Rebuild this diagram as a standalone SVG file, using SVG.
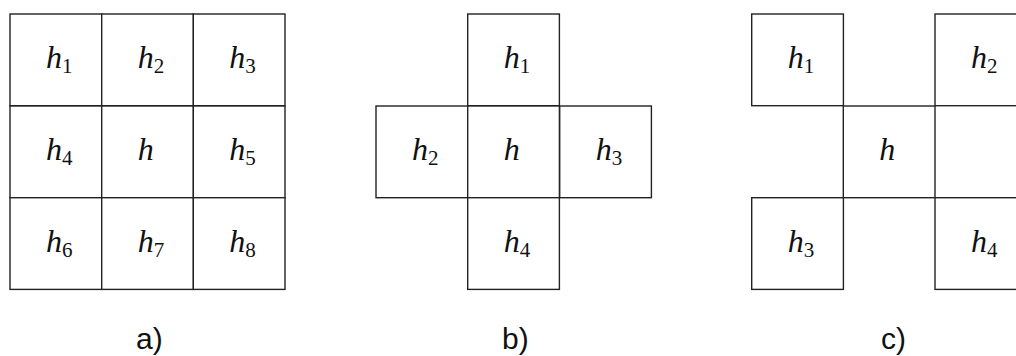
<svg xmlns="http://www.w3.org/2000/svg" width="1016" height="356" viewBox="0 0 1016 356">
<style>
rect.c{fill:#fff;stroke:#222;stroke-width:1.4}
text.m{font-family:"Liberation Serif","DejaVu Serif",serif;font-style:italic;font-size:32px;fill:#111}
tspan.s{font-style:normal;font-size:21px}
text.cap{font-family:"Liberation Sans",Arial,sans-serif;font-size:30px;fill:#111}
</style>
<rect width="1016" height="356" fill="#fff"/>
<defs>
<g id="cell"><rect class="c" x="0" y="0" width="91.7" height="91.7"/></g>
</defs>
<g id="grid-a">
<g id="a-h1"><use href="#cell" x="10" y="14"/><text class="m" x="46" y="68">h<tspan class="s" dy="5">1</tspan></text></g>
<g id="a-h2"><use href="#cell" x="101.7" y="14"/><text class="m" x="137.7" y="68">h<tspan class="s" dy="5">2</tspan></text></g>
<g id="a-h3"><use href="#cell" x="193.3" y="14"/><text class="m" x="229.3" y="68">h<tspan class="s" dy="5">3</tspan></text></g>
<g id="a-h4"><use href="#cell" x="10" y="106"/><text class="m" x="46" y="160">h<tspan class="s" dy="5">4</tspan></text></g>
<g id="a-h"><use href="#cell" x="101.7" y="106"/><text class="m" x="137.7" y="160">h</text></g>
<g id="a-h5"><use href="#cell" x="193.3" y="106"/><text class="m" x="229.3" y="160">h<tspan class="s" dy="5">5</tspan></text></g>
<g id="a-h6"><use href="#cell" x="10" y="197.7"/><text class="m" x="46" y="251.7">h<tspan class="s" dy="5">6</tspan></text></g>
<g id="a-h7"><use href="#cell" x="101.7" y="197.7"/><text class="m" x="137.7" y="251.7">h<tspan class="s" dy="5">7</tspan></text></g>
<g id="a-h8"><use href="#cell" x="193.3" y="197.7"/><text class="m" x="229.3" y="251.7">h<tspan class="s" dy="5">8</tspan></text></g>
</g>
<g id="grid-b">
<g id="b-h1"><use href="#cell" x="467.7" y="14"/><text class="m" x="503.7" y="68">h<tspan class="s" dy="5">1</tspan></text></g>
<g id="b-h2"><use href="#cell" x="376" y="106"/><text class="m" x="412" y="160">h<tspan class="s" dy="5">2</tspan></text></g>
<g id="b-h"><use href="#cell" x="467.7" y="106"/><text class="m" x="503.7" y="160">h</text></g>
<g id="b-h3"><use href="#cell" x="559.7" y="106"/><text class="m" x="595.7" y="160">h<tspan class="s" dy="5">3</tspan></text></g>
<g id="b-h4"><use href="#cell" x="467.7" y="197.7"/><text class="m" x="503.7" y="251.7">h<tspan class="s" dy="5">4</tspan></text></g>
</g>
<g id="grid-c">
<g id="c-h1"><use href="#cell" x="751.7" y="14"/><text class="m" x="787.7" y="68">h<tspan class="s" dy="5">1</tspan></text></g>
<g id="c-h2"><use href="#cell" x="935" y="14"/><text class="m" x="971" y="68">h<tspan class="s" dy="5">2</tspan></text></g>
<g id="c-h"><use href="#cell" x="843.3" y="106"/><text class="m" x="879.3" y="160">h</text></g>
<g id="c-h3"><use href="#cell" x="751.7" y="197.7"/><text class="m" x="787.7" y="251.7">h<tspan class="s" dy="5">3</tspan></text></g>
<g id="c-h4"><use href="#cell" x="935" y="197.7"/><text class="m" x="971" y="251.7">h<tspan class="s" dy="5">4</tspan></text></g>
</g>
<g id="captions">
<text class="cap" x="136" y="349">a)</text>
<text class="cap" x="502" y="349">b)</text>
<text class="cap" x="881" y="349">c)</text>
</g>
<g id="connectors"/>
</svg>
